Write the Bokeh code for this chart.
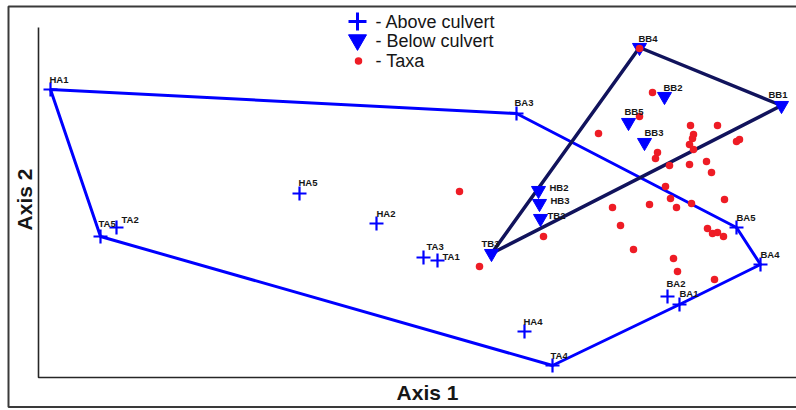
import math
from bokeh.plotting import figure
from bokeh.models import Range1d, ColumnDataSource
from bokeh.core.properties import value
from bokeh.embed import file_html
from bokeh.resources import INLINE

# Ordination scores of the sampling sites above the culvert
above_sites = ["HA1", "HA2", "HA4", "HA5", "TA1", "TA2", "TA3", "TA4", "TA5",
               "BA1", "BA2", "BA3", "BA4", "BA5"]
above_ax1 = [-3.60, -0.34, 1.14, -1.11, 0.27, -2.94, 0.13, 1.42, -3.10,
             2.69, 2.57, 1.06, 3.50, 3.26]
above_ax2 = [1.26, -0.08, -1.16, 0.22, -0.45, -0.12, -0.42, -1.50, -0.21,
             -0.89, -0.81, 1.02, -0.49, -0.12]

# Ordination scores of the sampling sites below the culvert
below_sites = ["BB1", "BB2", "BB3", "BB4", "BB5", "HB2", "HB3", "TB2", "TB3"]
below_ax1 = [3.71, 2.54, 2.34, 2.29, 2.18, 1.28, 1.29, 1.30, 0.81]
below_ax2 = [1.10, 1.19, 0.73, 1.68, 0.93, 0.25, 0.12, -0.03, -0.38]

# Taxa scores
taxa_ax1 = [2.29, 2.42, 2.29, 1.88, 2.80, 3.07, 2.83, 2.82, 2.79, 2.83,
            3.26, 3.29, 2.47, 2.45, 2.59, 2.79, 2.96, 3.01, 2.55, 0.49,
            3.14, 2.60, 2.39, 2.02, 2.66, 2.81, 2.10, 1.33, 2.97, 3.02,
            3.07, 3.13, 2.23, 2.63, 2.67, 3.04, 0.69]
taxa_ax2 = [1.67, 1.23, 0.99, 0.82, 0.90, 0.90, 0.81, 0.77, 0.71, 0.66,
            0.74, 0.76, 0.63, 0.57, 0.50, 0.51, 0.54, 0.43, 0.29, 0.24,
            0.16, 0.17, 0.11, 0.08, 0.08, 0.12, -0.10, -0.21, -0.13, -0.18,
            -0.17, -0.21, -0.34, -0.43, -0.56, -0.64, -0.51]

# Convex hulls (site order around each hull)
above_hull = ["HA1", "BA3", "BA5", "BA4", "BA1", "TA4", "TA5", "HA1"]
below_hull = ["TB3", "BB4", "BB1", "TB3"]

legend_labels = ["- Above culvert", "- Below culvert", "- Taxa"]

# ---- styling -------------------------------------------------------------
W, H = 796, 410
X0, X1 = -4.10, 3.86
Y0, Y1 = -1.95, 2.15
BLUE = "#0000ff"
NAVY = "#11135c"
RED = "#ee1c25"
INK = "#161616"
FONT = value("Liberation Sans")


def sx(px):
    """Canvas pixel column -> data x."""
    return X0 + (X1 - X0) * px / W


def sy(py):
    """Canvas pixel row -> data y."""
    return Y1 - (Y1 - Y0) * py / H


# label nudges in pixels (dx, dy) relative to the marker; default just above
default_nudge = (0, -10)
nudges = {"HA1": (-1, -10), "BA3": (-2, -11), "BB4": (-1, -9), "BB2": (-1, -9),
          "BB5": (-4, -11), "BB1": (-13, -11), "HB2": (11, -3), "HB3": (11, -3),
          "TB2": (7, -3), "TB3": (-10, -10), "TA3": (3, -11), "TA1": (5, -4),
          "TA4": (-2, -10), "BA2": (-1, -13), "BA1": (0, -11), "TA5": (-2, -13),
          "TA2": (5, -8), "HA5": (-1, -11), "HA4": (-1, -10)}

p = figure(width=W, height=H, x_range=Range1d(X0, X1), y_range=Range1d(Y0, Y1),
           output_backend="svg", toolbar_location=None, min_border=0,
           x_axis_location=None, y_axis_location=None)
p.grid.grid_line_color = None
p.outline_line_color = None
p.background_fill_color = "white"
p.border_fill_color = "white"

# outer frame (open on the right)
p.line([sx(820), sx(8), sx(8), sx(820)], [sy(6), sy(6), sy(406.5), sy(406.5)],
       line_color="#3a3a3a", line_width=2)
# axis lines
p.line([sx(38), sx(38), sx(820)], [sy(27), sy(377), sy(377)],
       line_color="#262626", line_width=1.6)

above_pos = dict(zip(above_sites, zip(above_ax1, above_ax2)))
below_pos = dict(zip(below_sites, zip(below_ax1, below_ax2)))

# hulls
p.line([above_pos[s][0] for s in above_hull], [above_pos[s][1] for s in above_hull],
       line_color=BLUE, line_width=3, line_join="round")
p.line([below_pos[s][0] for s in below_hull], [below_pos[s][1] for s in below_hull],
       line_color=NAVY, line_width=3.5, line_join="round")

# markers
p.scatter(above_ax1, above_ax2, marker="cross", size=14, line_color=BLUE, line_width=2.2)
p.scatter(below_ax1, below_ax2, marker="inverted_triangle", size=14,
          fill_color=BLUE, line_color=BLUE)
p.scatter(taxa_ax1, taxa_ax2, marker="circle", size=7.5, fill_color=RED, line_color=None)


def label_source(sites, xs, ys):
    dx = [nudges.get(s, default_nudge)[0] for s in sites]
    dy = [nudges.get(s, default_nudge)[1] for s in sites]
    return ColumnDataSource(dict(x=xs, y=ys, t=sites, dx=dx, dy=dy))


for src in (label_source(above_sites, above_ax1, above_ax2),
            label_source(below_sites, below_ax1, below_ax2)):
    p.text("x", "y", text="t", x_offset="dx", y_offset="dy", source=src,
           text_font=FONT, text_font_style="bold", text_font_size="9.5px",
           text_color=INK, text_align="left", text_baseline="alphabetic")

# legend drawn in the top margin
key_x, text_x = 357, 375
rows_y = [21, 40.5, 60.5]
p.scatter([sx(key_x)], [sy(rows_y[0])], marker="cross", size=18,
          line_color=BLUE, line_width=3)
p.scatter([sx(key_x)], [sy(rows_y[1] - 1)], marker="inverted_triangle", size=18,
          fill_color=BLUE, line_color=BLUE)
p.scatter([sx(key_x + 1)], [sy(rows_y[2])], marker="circle", size=7.5,
          fill_color=RED, line_color=None)
p.text([sx(text_x)] * 3, [sy(v) for v in rows_y], text=legend_labels,
       text_font=FONT, text_font_size="18px", text_color=INK,
       text_align="left", text_baseline="middle")

# axis titles
p.text([sx(427)], [sy(392)], text=["Axis 1"], text_font=FONT, text_font_style="bold",
       text_font_size="21px", text_color=INK, text_align="center", text_baseline="middle")
p.text([sx(24)], [sy(199)], text=["Axis 2"], angle=math.pi / 2, text_font=FONT,
       text_font_style="bold", text_font_size="21px", text_color=INK,
       text_align="center", text_baseline="middle")

open("out.html", "w").write(file_html(p, INLINE))
